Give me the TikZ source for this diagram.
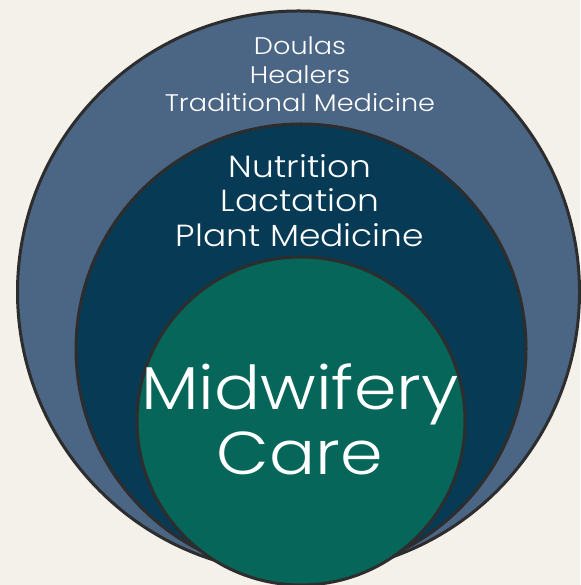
\documentclass[tikz,border=0pt]{standalone}
\usepackage{fontspec}
\setmainfont{Poppins}[UprightFont=* Light,FakeStretch=1.13]
\definecolor{paper}{HTML}{F4F0EA}
\definecolor{ringout}{HTML}{4B6585}
\definecolor{ringmid}{HTML}{063A55}
\definecolor{core}{HTML}{066659}
\definecolor{rim}{HTML}{2D2D2D}
\begin{document}
\begin{tikzpicture}[x=1pt,y=1pt,
  ring/.style={draw=rim,line width=3pt},
  label/.style={text=white,align=center,inner sep=0pt,anchor=north}]
  \fill[paper] (0,0) rectangle (580,585);
  \useasboundingbox (0,0) rectangle (580,585);
  % nested circles, largest first
  \path[ring,fill=ringout] (298.5,293) circle[radius=281];
  \path[ring,fill=ringmid] (301,236) circle[radius=225];
  \path[ring,fill=core]    (301,164) circle[radius=164];
  % labels
  \node[label,font=\fontsize{24}{28.5}\selectfont] (outertext) at (300,548)
    {Doulas\\Healers\\Traditional Medicine};
  \node[label,font=\fontsize{30.5}{34.5}\selectfont] (midtext) at (300,431)
    {Nutrition\\Lactation\\Plant Medicine};
  \node[label,font=\fontsize{60.5}{65}\selectfont] (coretext) at (300,221)
    {Midwifery\\Care};
\end{tikzpicture}
\end{document}
